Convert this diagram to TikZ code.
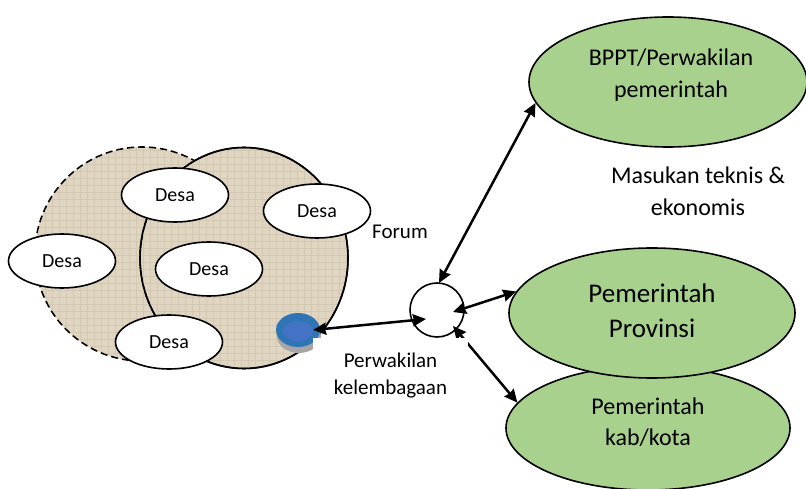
\documentclass[tikz,border=0pt]{standalone}
\usepackage{fontspec}
\setmainfont{Carlito}
\usetikzlibrary{shapes.geometric,arrows.meta,calc}
\definecolor{leaf}{HTML}{A9D18E}
\definecolor{sack}{RGB}{223,213,193}
\definecolor{sackline}{RGB}{211,200,179}
\definecolor{dotouter}{HTML}{2E75B6}
\definecolor{dotinner}{HTML}{4472C4}
\begin{document}
\begin{tikzpicture}[x=1pt,y=-1pt,
  outline/.style={draw=black,line width=1.6pt},
  desa/.style={ellipse,outline,fill=white,minimum width=107pt,minimum height=54pt,
    inner sep=0pt,font=\fontsize{20}{24}\selectfont},
  body/.style={ellipse,outline,fill=leaf,inner sep=0pt},
  caption/.style={align=center,inner sep=0pt},
  link/.style={line width=2.5pt,{Stealth[length=13pt,width=12pt,inset=1pt]}-{Stealth[length=13pt,width=12pt,inset=1pt]}},
]
\useasboundingbox (0,0) rectangle (806,489);

% village area (dashed) and forum area (solid)
\node[ellipse,draw=black,line width=1.6pt,dash pattern=on 7pt off 4pt,fill=sack,
  minimum width=214pt,minimum height=214pt,inner sep=0pt] (village) at (142,254) {};
\node[ellipse,outline,fill=sack,minimum width=208pt,minimum height=221pt,inner sep=0pt]
  (forum) at (244,258) {};
% light woven texture over both areas
\begin{scope}
  \clip (142,254) circle[x radius=106pt,y radius=106pt]
        (244,258) circle[x radius=103pt,y radius=109.5pt];
  \foreach \k in {0,...,46} {
    \draw[sackline,line width=0.4pt] (31+7*\k,140) -- (31+7*\k,372);
  }
  \foreach \k in {0,...,33} {
    \draw[sackline,line width=0.4pt] (30,143+7*\k) -- (352,143+7*\k);
  }
\end{scope}
\draw[line width=1.6pt] (244,258) circle[x radius=104pt,y radius=110.5pt];

% villages
\node[desa] (desaA) at (175,195) {Desa};
\node[desa] (desaB) at (317,211) {Desa};
\node[desa] (desaC) at (62,261) {Desa};
\node[desa] (desaD) at (209,269) {Desa};
\node[desa] (desaE) at (169,342) {Desa};

% institutional representative marker
\node[ellipse,fill=gray!70,minimum width=44pt,minimum height=34pt,inner sep=0pt]
  (blobshade) at (299,336) {};
\node[ellipse,fill=dotouter,minimum width=44pt,minimum height=34pt,inner sep=0pt]
  (blob) at (298,330) {};
\node[ellipse,fill=dotinner,minimum width=30pt,minimum height=20pt,inner sep=0pt]
  (blobcore) at (298,331) {};

% hub
\node[circle,outline,minimum size=54pt,inner sep=0pt] (hub) at (437,310) {};

% government bodies
\node[body,minimum width=284pt,minimum height=124pt] (kab) at (648,428) {};
\node[body,minimum width=286pt,minimum height=130pt] (prov) at (652,313) {};
\node[body,minimum width=278pt,minimum height=130pt] (bppt) at (668,82) {};

\node[caption,font=\fontsize{24}{32}\selectfont] (bpptText) at (671,75)
  {BPPT/Perwakilan\\pemerintah};
\node[caption,font=\fontsize{24}{32}\selectfont] (inputText) at (698,191)
  {Masukan teknis \&\\ekonomis};
\node[caption,font=\fontsize{27}{35}\selectfont] (provText) at (652,311)
  {Pemerintah\\Provinsi};
\node[caption,font=\fontsize{24}{31}\selectfont] (kabText) at (648,422)
  {Pemerintah\\kab/kota};
\node[caption,font=\fontsize{21}{26}\selectfont] (forumText) at (400,232) {Forum};

% connectors
\draw[link] ($(blob.center)+(15,0)$) -- ($(hub.center)+(-11,9)$);
\draw[link] ($(hub.center)+(2,-27)$) -- (bppt.189);
\draw[link] ($(hub.center)+(16,2)$) -- (prov.171);
\draw[link] ($(hub.center)+(16,16)$) -- (kab.169);

% label box (white background)
\node[caption,fill=white,minimum width=155pt,minimum height=76pt,
  font=\fontsize{21}{27}\selectfont] (reprText) at (390.5,376)
  {Perwakilan\\kelembagaan};
\end{tikzpicture}
\end{document}
